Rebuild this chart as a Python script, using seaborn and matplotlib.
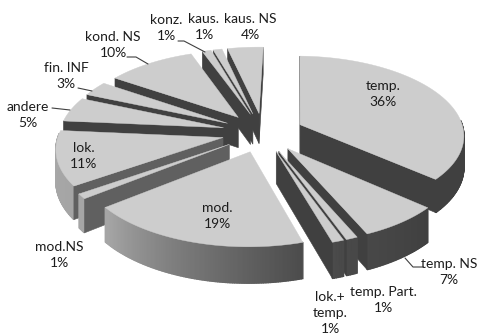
import numpy as np
import matplotlib
matplotlib.use("Agg")
import matplotlib.pyplot as plt
import seaborn as sns

sns.set_theme(style="white")
plt.rcParams['font.family'] = ['Lato', 'DejaVu Sans']

# Clause types and their shares, clockwise from twelve o'clock
categories = ["temp.", "temp. NS", "temp. Part.", "lok.+\ntemp.", "mod.", "mod.NS",
              "lok.", "andere", "fin. INF", "kond. NS", "konz.", "kaus.", "kaus. NS"]
shares = [36, 7, 1, 1, 19, 1, 11, 5, 3, 10, 1, 1, 4]

# Label anchors in pixels
label_x = [383, 449, 383, 330, 217, 59, 84, 28, 66, 113, 166, 204, 250]
label_y = [94, 272, 300, 313, 216, 255, 156, 115, 76, 45, 28, 27, 27]

# Leader lines beside the labels
leaders = [
    [(52, 108), (70, 110)],
    [(78, 88), (92, 91)],
    [(127, 57), (136, 57), (148, 64)],
    [(178, 41), (184, 41), (205, 52)],
    [(423, 267), (413, 267), (405, 258)],
]

# Projection of the tilted disc
CX, CY = 263, 132.5
RX, RY = 164, 78.6
PERSP = 0.12
EXPLODE = 0.25
DEPTH = 31
ROTATION = 1.5

TOP_GRAY = "#cdcdcd"
DARK_GRAY = "#404040"
MID_GRAY = "#606060"


def project(u, v, drop=0.0):
    s = 1 / (1 + PERSP * v)
    return CX + RX * u * s, CY - RY * v * s + drop * s


def rim_gray(theta):
    level = np.interp(theta, [0, 130, 162, 180, 200, 230, 270, 360],
                      [0x40, 0x40, 0x4a, 0x60, 0x7a, 0xa5, 0xa8, 0xa8])
    return sns.blend_palette(["#000000", "#ffffff"], 256)[int(level)]


def cross(o, a, b):
    return (a[0] - o[0]) * (b[1] - o[1]) - (a[1] - o[1]) * (b[0] - o[0])


fig = plt.figure(figsize=(4.78, 3.34), dpi=100)
ax = fig.add_axes([0, 0, 1, 1])
ax.set_xlim(0, 478)
ax.set_ylim(334, 0)
ax.axis("off")

edges = np.cumsum([0] + shares) / sum(shares) * 360 + ROTATION
slices = []
for i in range(len(shares)):
    a0, a1 = edges[i], edges[i + 1]
    mid = np.radians((a0 + a1) / 2)
    slices.append((np.cos(mid), a0, a1, mid))

# Paint from the back of the disc towards the viewer
for _, a0, a1, mid in sorted(slices, key=lambda t: -t[0]):
    du, dv = EXPLODE * np.sin(mid), EXPLODE * np.cos(mid)
    angles = np.linspace(a0, a1, max(int(a1 - a0) * 2, 4) + 1)
    us = du + np.sin(np.radians(angles))
    vs = dv + np.cos(np.radians(angles))
    inner = project(du + 0.5 * np.sin(mid), dv + 0.5 * np.cos(mid))

    # Outer rim, front-facing part only, shaded by facing direction
    for j in range(len(angles) - 1):
        theta = (angles[j] + angles[j + 1]) / 2
        if np.cos(np.radians(theta)) > 0.05:
            continue
        pts = [project(us[j], vs[j]), project(us[j + 1], vs[j + 1]),
               project(us[j + 1], vs[j + 1], DEPTH), project(us[j], vs[j], DEPTH)]
        ax.fill(*zip(*pts), color=rim_gray(theta), lw=1.0, zorder=1)

    # Cut faces that turn towards the viewer
    face = MID_GRAY if 225 < a0 < 240 else DARK_GRAY
    for eu, ev in ((us[0], vs[0]), (us[-1], vs[-1])):
        apex, rim_pt = project(du, dv), project(eu, ev)
        low = project(eu, ev, DEPTH)
        if cross(apex, rim_pt, low) * cross(apex, rim_pt, inner) < 0:
            pts = [apex, rim_pt, low, project(du, dv, DEPTH)]
            ax.fill(*zip(*pts), color=face, lw=0.4, zorder=1)

    # Top surface
    top = [project(du, dv)] + [project(u, v) for u, v in zip(us, vs)]
    ax.fill(*zip(*top), color=TOP_GRAY, lw=0.3, zorder=1)

for name, share, x, y in zip(categories, shares, label_x, label_y):
    ax.text(x, y, f"{name}\n{share}%", ha="center", va="center", fontsize=10,
            color="#1c1c1c", linespacing=1.42, zorder=3)

for line in leaders:
    ax.plot(*zip(*line), color="#404040", lw=0.8, zorder=2)

fig.savefig("out.png", dpi=100)
